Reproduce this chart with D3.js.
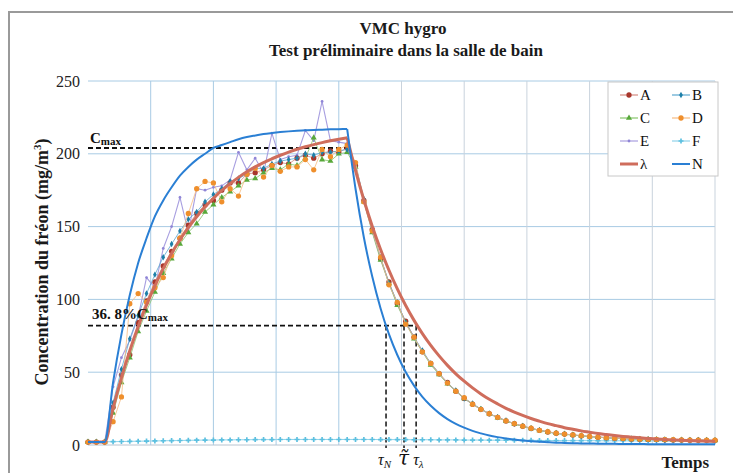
<!DOCTYPE html>
<html>
<head>
<meta charset="utf-8">
<script src="https://cdn.jsdelivr.net/npm/d3@7/dist/d3.min.js"></script>
<style>
  body { margin: 0; background: #fff; }
  svg { display: block; font-family: "Liberation Serif", "DejaVu Serif", serif; }
</style>
</head>
<body>
<div class="wrapper"></div>
<script>
// set the dimensions and margins of the graph
var margin = { top: 81, right: 18, bottom: 28, left: 88 },
  ultimatew = 733,
  ultimateh = 473,
  width = 627,
  height = 364;

// sampling times (min), one point every 2 min
var times = [0, 2, 4, 6, 8, 10, 12, 14, 16, 18, 20, 22, 24, 26, 28, 30, 32, 34, 36, 38,
  40, 42, 44, 46, 48, 50, 52, 54, 56, 58, 60, 62, 64, 66, 68, 70, 72, 74, 76, 78,
  80, 82, 84, 86, 88, 90, 92, 94, 96, 98, 100, 102, 104, 106, 108, 110, 112, 114, 116, 118,
  120, 122, 124, 126, 128, 130, 132, 134, 136, 138, 140, 142, 144, 146, 148, 150];

var seriesA = [2, 2, 2,
  26, 48, 62, 84, 99, 112, 123, 133, 142, 151, 159, 165, 168, 175, 180, 180, 186, 187, 189, 192, 194, 193, 197, 199, 197, 200, 202, 201, 204,
  192, 168, 148, 128, 112, 97, 85, 74, 64, 56, 49, 43, 37, 32, 28, 24.5, 21.5, 19, 16.5, 14.6, 12.9, 11.4, 10.1, 9.0, 8.1, 7.5, 6.9, 6.3, 5.8, 5.4, 5.0, 4.7, 4.4, 4.2, 4.0, 3.8, 3.7, 3.6, 3.5, 3.4, 3.3, 3.3, 3.2, 3.2];
var seriesB = [2, 2, 2,
  29, 52, 73, 89, 104, 117, 129, 138, 147, 155, 160, 167, 172, 176, 181, 183, 186, 190, 190, 193, 195, 196, 197, 200, 199, 201, 201, 202, 203,
  193, 169, 147, 129, 111, 98, 84, 74, 65, 56, 49, 42.5, 37.5, 32, 28.5, 24.5, 21.5, 19, 16.8, 14.6, 13, 11.4, 10.2, 9.0, 8.0, 7.4, 6.9, 6.3, 5.8, 5.4, 5.0, 4.6, 4.4, 4.1, 4.0, 3.8, 3.7, 3.6, 3.5, 3.4, 3.3, 3.2, 3.2, 3.1];
var seriesC = [2, 2, 2,
  22, 43, 60, 78, 92, 105, 118, 128, 138, 146, 152, 160, 165, 170, 174, 178, 182, 183, 187, 190, 189, 193, 192, 197, 211, 196, 195, 200, 201,
  191, 167, 146, 127, 111, 96, 84, 73, 64, 55, 48.5, 42, 37, 32, 28, 24.5, 21.5, 18.8, 16.5, 14.5, 12.8, 11.3, 10.0, 9.0, 8.0, 7.5, 6.8, 6.3, 5.8, 5.4, 5.0, 4.7, 4.4, 4.2, 4.0, 3.8, 3.7, 3.6, 3.5, 3.4, 3.3, 3.2, 3.2, 3.1];
var seriesD = [2, 2, 2,
  16, 33, 97, 104, 98, 108, 115, 130, 142, 159, 176, 181, 180, 167, 176, 171, 186, 190, 184, 192, 188, 191, 191, 196, 189, 203, 198, 203, 206,
  194, 167, 147, 129, 110, 98, 83, 74, 64, 56, 49, 42.5, 37, 32.5, 28, 24.5, 21.5, 19, 16.6, 14.7, 12.9, 11.5, 10.1, 9.1, 8.1, 7.5, 7.0, 6.4, 5.9, 5.4, 5.0, 4.7, 4.5, 4.2, 4.0, 3.9, 3.8, 3.7, 3.6, 3.5, 3.4, 3.4, 3.3, 3.3];
var seriesE = [2, 2, 2,
  40, 60, 72, 88, 115, 108, 135, 150, 170, 146, 176, 175, 177, 178, 182, 201, 189, 197, 187, 214, 196, 198, 199, 216, 209, 236, 209, 208, 207,
  192, 168, 147, 128, 111, 97, 84, 74, 64, 56, 49, 42.5, 37, 32, 28, 24.5, 21.5, 19, 16.6, 14.6, 12.9, 11.4, 10.1, 9.0, 8.0, 7.5, 6.9, 6.3, 5.8, 5.4, 5.0, 4.7, 4.4, 4.2, 4.0, 3.8, 3.7, 3.6, 3.5, 3.4, 3.3, 3.3, 3.2, 3.2];
var seriesF = [2.0, 2.1, 2.2, 2.3, 2.4, 2.5, 2.6, 2.7, 2.8, 2.9, 3.0, 3.1, 3.2, 3.3, 3.4, 3.4, 3.5, 3.5, 3.6, 3.6,
  3.7, 3.7, 3.7, 3.8, 3.8, 3.8, 3.8, 3.8, 3.8, 3.8, 3.8, 3.8, 3.8, 3.8, 3.8, 3.7, 3.7, 3.7, 3.7, 3.6,
  3.6, 3.6, 3.5, 3.5, 3.5, 3.4, 3.4, 3.4, 3.3, 3.3, 3.3, 3.2, 3.2, 3.2, 3.1, 3.1, 3.1, 3.0, 3.0, 3.0,
  3.0, 2.9, 2.9, 2.9, 2.9, 2.8, 2.8, 2.8, 2.8, 2.8, 2.7, 2.7, 2.7, 2.7, 2.7, 2.7];
// model curves
var seriesLambda = [2, 2, 2,
  25.3, 46.1, 64.7, 81.3, 96.1, 109.3, 121.1, 131.6, 141, 149.3, 156.8, 163.5, 169.5, 174.8, 179.5, 183.8, 187.6, 191, 194, 196.6, 199, 201.2, 203.1, 204.8, 206.3, 207.7, 208.9, 210, 211,
  188.4, 168.3, 150.3, 134.3, 120.0, 107.2, 95.8, 85.6, 76.5, 68.4, 61.2, 54.7, 48.9, 43.8, 39.2, 35.1, 31.4, 28.2, 25.2, 22.6, 20.3, 18.2, 16.4, 14.7, 13.3, 11.9, 10.8, 9.7, 8.8, 7.9, 7.2, 6.5, 5.9, 5.4, 4.9, 4.5, 4.1, 3.8, 3.5, 3.2, 3.0, 2.8, 2.6, 2.4];
var seriesN = [2, 2, 2,
  43, 76, 103, 125, 142, 157, 168, 177, 185, 191, 196, 200, 204, 206, 208, 210, 211.5, 212.6, 213.6, 214.3, 214.9, 215.4, 215.8, 216.1, 216.4, 216.6, 216.8, 216.9, 217,
  176, 142.5, 115.7, 93.8, 76.1, 61.8, 50.1, 40.8, 33.0, 26.9, 21.9, 17.8, 14.5, 11.9, 9.7, 8.0, 6.5, 5.4, 4.5, 3.7, 3.1, 2.6, 2.2, 1.9, 1.6, 1.4, 1.2, 1.1, 1.0, 0.9, 0.8, 0.8, 0.7, 0.7, 0.7, 0.6, 0.6, 0.6, 0.6, 0.5, 0.5, 0.5, 0.5, 0.5];

// annotations
var peakTime = 62;
var cMax = 204;
var cTau = 82; // 36.8% Cmax
var tauN = 71.3,
  tauMean = 75.6,
  tauLambda = 78.5;

var yTicks = [0, 50, 100, 150, 200, 250];
var xGrid = [15, 30, 45, 60, 75, 90, 105, 120, 135, 150];

var svg = d3
  .select(".wrapper")
  .append("svg")
  .attr("width", ultimatew)
  .attr("height", ultimateh);

svg.append("rect")
  .attr("width", ultimatew)
  .attr("height", ultimateh)
  .attr("fill", "#fff");

// chart area frame
svg.append("rect")
  .attr("x", 9)
  .attr("y", 12)
  .attr("width", 760)
  .attr("height", 520)
  .attr("fill", "none")
  .attr("stroke", "#9a9a9a")
  .attr("stroke-width", 2);

// titles
svg.append("text")
  .attr("x", 403)
  .attr("y", 34)
  .attr("text-anchor", "middle")
  .attr("font-size", 17)
  .attr("font-weight", "bold")
  .attr("fill", "#1a1a1a")
  .text("VMC hygro");
svg.append("text")
  .attr("x", 406)
  .attr("y", 56)
  .attr("text-anchor", "middle")
  .attr("font-size", 17)
  .attr("font-weight", "bold")
  .attr("fill", "#1a1a1a")
  .text("Test préliminaire dans la salle de bain");

var g = svg.append("g")
  .attr("transform", "translate(" + margin.left + "," + margin.top + ")");

var x = d3.scaleLinear().domain([0, 150]).range([0, width]);
var y = d3.scaleLinear().domain([0, 250]).range([height, 0]);

// grid lines
g.append("g")
  .selectAll("line")
  .data(yTicks)
  .enter()
  .append("line")
  .attr("x1", 0)
  .attr("x2", width)
  .attr("y1", function(d) { return y(d); })
  .attr("y2", function(d) { return y(d); })
  .attr("stroke", function(d) { return d == 0 ? "#b8c4d0" : "#a8cbe4"; })
  .attr("stroke-width", 1);

g.append("g")
  .selectAll("line")
  .data(xGrid)
  .enter()
  .append("line")
  .attr("x1", function(d) { return x(d); })
  .attr("x2", function(d) { return x(d); })
  .attr("y1", 0)
  .attr("y2", height)
  .attr("stroke", function(d, i) { return i < 4 ? "#a8cbe4" : "#c9d3dd"; })
  .attr("stroke-width", 1);

// y axis labels
g.append("g")
  .selectAll("text")
  .data(yTicks)
  .enter()
  .append("text")
  .attr("x", -8)
  .attr("y", function(d) { return y(d); })
  .attr("dy", "0.35em")
  .attr("text-anchor", "end")
  .attr("font-size", 16)
  .attr("fill", "#222")
  .text(function(d) { return d; });

var yTitle = svg.append("text")
  .attr("transform", "translate(48,262) rotate(-90)")
  .attr("text-anchor", "middle")
  .attr("font-size", 18)
  .attr("font-weight", "bold")
  .attr("fill", "#1a1a1a");
yTitle.append("tspan").text("Concentration du fréon (mg/m");
yTitle.append("tspan").attr("font-size", 11).attr("dy", -7).text("3");
yTitle.append("tspan").attr("dy", 7).text(")");

svg.append("text")
  .attr("x", 709)
  .attr("y", 468)
  .attr("text-anchor", "end")
  .attr("font-size", 17)
  .attr("font-weight", "bold")
  .attr("fill", "#1a1a1a")
  .text("Temps");

// dashed annotation lines
var dash = g.append("g")
  .attr("stroke", "#111")
  .attr("stroke-width", 1.8)
  .attr("stroke-dasharray", "5,3")
  .attr("fill", "none");
dash.append("line")
  .attr("x1", x(0)).attr("x2", x(peakTime))
  .attr("y1", y(cMax)).attr("y2", y(cMax));
dash.append("line")
  .attr("x1", x(0)).attr("x2", x(tauLambda))
  .attr("y1", y(cTau)).attr("y2", y(cTau));
dash.selectAll(".vtau")
  .data([tauN, tauMean, tauLambda])
  .enter()
  .append("line")
  .attr("class", "vtau")
  .attr("stroke-width", 1.5)
  .attr("x1", function(d) { return x(d); })
  .attr("x2", function(d) { return x(d); })
  .attr("y1", y(cTau))
  .attr("y2", y(0) + 3);

var rows = times.map(function(t, i) {
  return { t: t, A: seriesA[i], B: seriesB[i], C: seriesC[i], D: seriesD[i], E: seriesE[i], F: seriesF[i], L: seriesLambda[i], N: seriesN[i] };
});

var series = [
  { key: "F", line: "#8fd3ea", marker: "#5cc0e0", shape: d3.symbolCross, size: 14, lw: 1 },
  { key: "E", line: "#a89fe0", marker: "#8f85d6", shape: d3.symbolCircle, size: 6, lw: 1.1 },
  { key: "A", line: "#d48a80", marker: "#a8362b", shape: d3.symbolCircle, size: 22, lw: 0.8 },
  { key: "C", line: "#86c46a", marker: "#58a83a", shape: d3.symbolTriangle, size: 16, lw: 0.8 },
  { key: "B", line: "#5aa7cf", marker: "#1d7fa8", shape: d3.symbolDiamond, size: 12, lw: 0.8 },
  { key: "D", line: "#f6bb80", marker: "#ef8f2c", shape: d3.symbolCircle, size: 22, lw: 0.8 }
];

series.forEach(function(s) {
  var line = d3.line()
    .x(function(d) { return x(d.t); })
    .y(function(d) { return y(d[s.key]); });
  var grp = g.append("g").attr("class", "series-" + s.key);
  grp.append("path")
    .datum(rows)
    .attr("fill", "none")
    .attr("stroke", s.line)
    .attr("stroke-width", s.lw)
    .attr("d", line);
  grp.selectAll("path.mk")
    .data(rows)
    .enter()
    .append("path")
    .attr("class", "mk")
    .attr("transform", function(d) { return "translate(" + x(d.t) + "," + y(d[s.key]) + ")"; })
    .attr("d", d3.symbol().type(s.shape).size(s.size))
    .attr("fill", s.marker);
});

// model curves, split at the peak so the corner stays sharp
var peakIdx = times.indexOf(peakTime);
function drawModel(key, color, w) {
  var line = d3.line()
    .x(function(d) { return x(d.t); })
    .y(function(d) { return y(d[key]); })
    .curve(d3.curveMonotoneX);
  [rows.slice(0, peakIdx + 1), rows.slice(peakIdx)].forEach(function(part) {
    g.append("path")
      .datum(part)
      .attr("fill", "none")
      .attr("stroke", color)
      .attr("stroke-width", w)
      .attr("stroke-linejoin", "miter")
      .attr("d", line);
  });
}
drawModel("L", "#cf6d5c", 3);
drawModel("N", "#2a7fd4", 2);

// annotation labels
var cLab = g.append("text")
  .attr("x", 2)
  .attr("y", y(cMax) - 5)
  .attr("font-size", 15)
  .attr("font-weight", "bold")
  .attr("fill", "#111");
cLab.append("tspan").text("C");
cLab.append("tspan").attr("font-size", 11).attr("dy", 2).text("max");

var tLab = g.append("text")
  .attr("x", 4)
  .attr("y", y(cTau) - 7)
  .attr("font-size", 15)
  .attr("font-weight", "bold")
  .attr("fill", "#111");
tLab.append("tspan").text("36. 8%C");
tLab.append("tspan").attr("font-size", 11).attr("dy", 2).text("max");

var tauLabels = [
  { t: tauN, main: "τ", sub: "N", size: 16, dx: -8, font: null },
  { t: tauMean, main: "τ\u0303", sub: "", size: 20, dx: -6, font: "DejaVu Serif" },
  { t: tauLambda, main: "τ", sub: "λ", size: 16, dx: -3, font: null }
];
tauLabels.forEach(function(d) {
  var tx = g.append("text")
    .attr("x", x(d.t) + d.dx)
    .attr("y", height + 20)
    .attr("font-size", d.size)
    .attr("font-style", "italic")
    .attr("fill", "#111");
  if (d.font) tx.attr("font-family", d.font);
  tx.append("tspan").text(d.main);
  if (d.sub) tx.append("tspan").attr("font-size", 11).attr("dy", 3).text(d.sub);
});

// legend
var legendItems = [
  { key: "A", label: "A" }, { key: "B", label: "B" },
  { key: "C", label: "C" }, { key: "D", label: "D" },
  { key: "E", label: "E" }, { key: "F", label: "F" },
  { key: "L", label: "λ" }, { key: "N", label: "N" }
];
var legend = svg.append("g").attr("transform", "translate(608,82)");
legend.append("rect")
  .attr("width", 110)
  .attr("height", 94)
  .attr("fill", "#fff")
  .attr("stroke", "#c8c8c8");
legendItems.forEach(function(it, i) {
  var col = i % 2, row = Math.floor(i / 2);
  var lx = 12 + col * 52, ly = 13 + row * 23;
  var s = series.filter(function(d) { return d.key == it.key; })[0];
  var item = legend.append("g").attr("transform", "translate(" + lx + "," + ly + ")");
  if (s) {
    item.append("line").attr("x1", 0).attr("x2", 18).attr("stroke", s.line).attr("stroke-width", 1.2);
    item.append("path")
      .attr("transform", "translate(9,0)")
      .attr("d", d3.symbol().type(s.shape).size(s.size))
      .attr("fill", s.marker);
  } else {
    item.append("line").attr("x1", 0).attr("x2", 18)
      .attr("stroke", it.key == "L" ? "#cf6d5c" : "#2a7fd4")
      .attr("stroke-width", it.key == "L" ? 3 : 2);
  }
  item.append("text")
    .attr("x", 20)
    .attr("dy", "0.35em")
    .attr("font-size", 15)
    .attr("fill", "#111")
    .text(it.label);
});
</script>
</body>
</html>
